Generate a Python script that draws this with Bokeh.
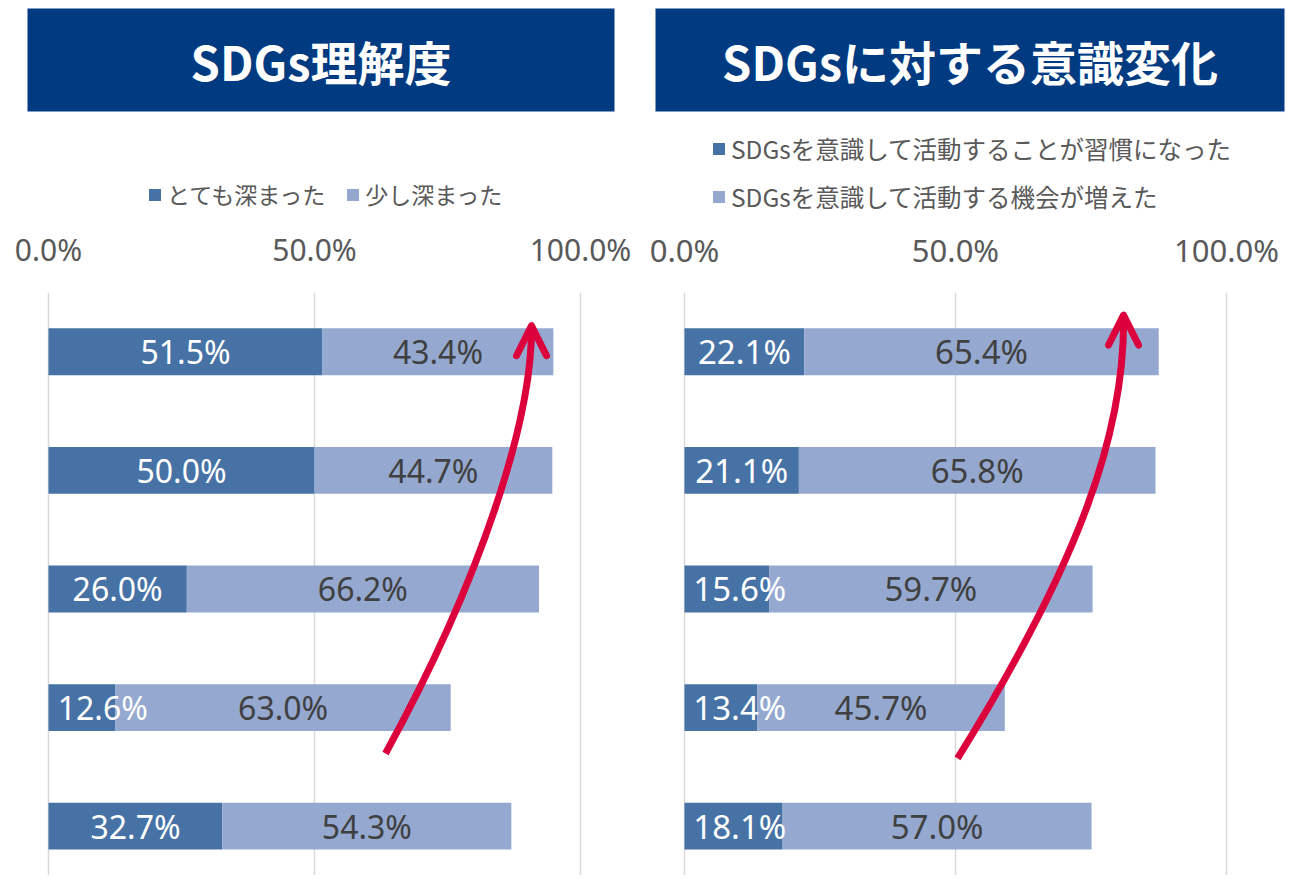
from bokeh.plotting import figure
from bokeh.layouts import row, column
from bokeh.models import (ColumnDataSource, Range1d, Legend, LegendItem, Label,
                          Arrow, OpenHead, FixedTicker, Grid)
from bokeh.embed import file_html
from bokeh.resources import INLINE
from bokeh.core.properties import value

# ---------------- data ----------------
left_title = "SDGs理解度"
right_title = "SDGsに対する意識変化"
left_series = ["とても深まった", "少し深まった"]
right_series = ["SDGsを意識して活動することが習慣になった", "SDGsを意識して活動する機会が増えた"]
rows = [0, 1, 2, 3, 4]
left_strong = [51.5, 50.0, 26.0, 12.6, 32.7]
left_some = [43.4, 44.7, 66.2, 63.0, 54.3]
right_habit = [22.1, 21.1, 15.6, 13.4, 18.1]
right_more = [65.4, 65.8, 59.7, 45.7, 57.0]
x_ticks = [0, 50, 100]
x_tick_labels = ["0.0%", "50.0%", "100.0%"]

# ---------------- style ----------------
NAVY = "#003A80"
DARK = "#4672A6"
LIGHT = "#95A9D0"
RED = "#DC003C"
GRID = "#D9D9D9"
TICK_C = "#595959"
LAB_DARK = "#404040"
JP = "Noto Sans CJK JP"
NUM = "Noto Sans"


def title_fig(width, bl, br, text):
    t = figure(width=width, height=118, x_range=Range1d(0, 1), y_range=Range1d(0, 1),
               output_backend="svg", toolbar_location=None,
               x_axis_type=None, y_axis_type=None,
               min_border_left=bl, min_border_right=br,
               min_border_top=8, min_border_bottom=7)
    t.background_fill_color = NAVY
    t.border_fill_color = "white"
    t.outline_line_color = None
    t.add_layout(Label(x=0.5, y=0.5, text=text, text_align="center",
                       text_baseline="middle", text_color="white",
                       text_font=JP, text_font_style="bold",
                       text_font_size="47px"))
    return t


def legend_axis_fig(width, bl, br, xr, names, leg_loc, leg_orient, leg_font,
                    tick_font):
    f = figure(width=width, height=174, x_range=xr, y_range=Range1d(0, 1),
               output_backend="svg", toolbar_location=None,
               x_axis_location="below", y_axis_type=None,
               min_border_left=bl, min_border_right=br,
               min_border_top=0, min_border_bottom=72)
    f.outline_line_color = None
    f.xgrid.visible = False
    ax = f.xaxis[0]
    ax.ticker = FixedTicker(ticks=x_ticks)
    ax.major_label_overrides = dict(zip(x_ticks, x_tick_labels))
    ax.axis_line_color = None
    ax.major_tick_line_color = None
    ax.minor_tick_line_color = None
    ax.major_tick_out = 0
    ax.major_tick_in = 0
    ax.major_label_standoff = 8
    ax.major_label_text_font = NUM
    ax.major_label_text_font_size = tick_font
    ax.major_label_text_color = TICK_C
    # legend swatches in the series colours (placed far outside the view)
    g1 = f.hbar(y=[1e4], left=[1e4], right=[1e4 + 1], height=0.4,
                fill_color=DARK, line_color=None)
    g2 = f.hbar(y=[1e4], left=[1e4], right=[1e4 + 1], height=0.4,
                fill_color=LIGHT, line_color=None)
    legend = Legend(items=[LegendItem(label=names[0], renderers=[g1]),
                           LegendItem(label=names[1], renderers=[g2])],
                    location=leg_loc, orientation=leg_orient,
                    label_text_font=JP, label_text_font_size=leg_font,
                    label_text_color=TICK_C, glyph_width=15, glyph_height=15,
                    label_standoff=5,
                    spacing=20 if leg_orient == "horizontal" else 13,
                    padding=0, margin=0, border_line_color=None,
                    background_fill_alpha=0)
    f.add_layout(legend, "center")
    return f


def chart(width, bl, br, xr, s1, s2, lab_font, bez, tip):
    p = figure(width=width, height=583, x_range=xr,
               y_range=Range1d(4.416, -0.5), output_backend="svg",
               toolbar_location=None, x_axis_type=None, y_axis_type=None,
               min_border_left=bl, min_border_right=br,
               min_border_top=0, min_border_bottom=0)
    p.outline_line_color = None
    p.add_layout(Grid(dimension=0, ticker=FixedTicker(ticks=x_ticks),
                      grid_line_color=GRID, grid_line_width=1.5))

    a_end = list(s1)
    b_end = [a + b for a, b in zip(s1, s2)]
    a_lab = [max(a / 2, 10.2) for a in s1]
    b_lab = [a + b / 2 for a, b in zip(s1, s2)]
    src = ColumnDataSource(dict(
        y=rows, zero=[0] * len(rows), a_end=a_end, b_end=b_end,
        a_lab=a_lab, b_lab=b_lab,
        a_txt=[f"{v:.1f}%" for v in s1], b_txt=[f"{v:.1f}%" for v in s2]))

    p.hbar(y="y", left="zero", right="a_end", height=0.395, source=src,
           fill_color=DARK, line_color=None)
    p.hbar(y="y", left="a_end", right="b_end", height=0.395, source=src,
           fill_color=LIGHT, line_color=None)
    p.text(x="a_lab", y="y", text="a_txt", source=src, text_align="center",
           text_baseline="middle", text_color="white",
           text_font=value(NUM), text_font_size=lab_font)
    p.text(x="b_lab", y="y", text="b_txt", source=src, text_align="center",
           text_baseline="middle", text_color=LAB_DARK,
           text_font=value(NUM), text_font_size=lab_font)

    # emphasis arrow (annotation)
    x0, y0, cx0, cy0, cx1, cy1, x1, y1 = bez
    p.bezier(x0=[x0], y0=[y0], x1=[x1], y1=[y1], cx0=[cx0], cy0=[cy0],
             cx1=[cx1], cy1=[cy1], line_color=RED, line_width=7)
    p.add_layout(Arrow(end=OpenHead(size=30, line_color=RED, line_width=7,
                                    line_join="round", line_cap="round"),
                       x_start=tip[0], y_start=tip[1] + 0.15,
                       x_end=tip[0], y_end=tip[1], line_alpha=0))
    return p


xr1 = Range1d(-3.947, 106.39)
xr2 = Range1d(-5.351, 110.70)

t1 = title_fig(648, 27, 34, left_title)
t2 = title_fig(645, 7, 9, right_title)

l1 = legend_axis_fig(648, 27, 34, xr1, left_series, (120, 9), "horizontal",
                     "23px", "30px")
l2 = legend_axis_fig(645, 7, 9, xr2, right_series, (56, 6), "vertical",
                     "24.5px", "31px")

c1 = chart(648, 27, 34, xr1, left_strong, left_some, "32px",
           (63.35, 3.387, 81.2, 1.928, 90.98, 0.579, 90.79, -0.22),
           (90.79, -0.22))
c2 = chart(645, 7, 9, xr2, right_habit, right_more, "33px",
           (50.37, 3.429, 73.06, 1.760, 81.37, 0.664, 81.0, -0.31),
           (81.0, -0.31))

layout = row(column(t1, l1, c1), column(t2, l2, c2))
open("out.html", "w").write(file_html(layout, INLINE))
